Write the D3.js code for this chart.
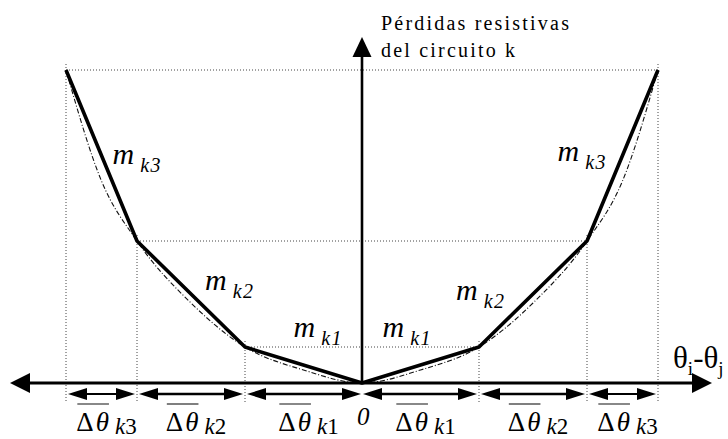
<!DOCTYPE html>
<html>
<head>
<meta charset="utf-8">
<script src="https://cdn.jsdelivr.net/npm/d3@7"></script>
<style>
  body { margin: 0; background: #fff; }
  svg { display: block; }
</style>
</head>
<body>
<svg id="chart" width="728" height="439"></svg>
<script>
// Piecewise-linear approximation of the resistive losses (one side, mirrored about 0)
const segments = ["1", "2", "3"];
const thetaBreaks = [0, 1.17, 2.25, 2.96];
const lossBreaks = [0, 0.36, 1.42, 3.13];

// Points sampled along the exact loss curve (one side, mirrored about 0)
const curveTheta = [0, 0.585, 1.17, 1.71, 2.25, 2.605, 2.96];
const curveLoss = [0, 0.13, 0.36, 0.80, 1.42, 2.02, 3.13];

const yTitleLines = ["Pérdidas resistivas", "del circuito k"];
const originLabel = "0";

const svg = d3.select("#chart");
const FONT = '"Liberation Serif"';
function txt(sel) {
  return sel.append("text").style("font-family", FONT).attr("fill", "#000");
}

const x = d3.scaleLinear().domain([-2.96, 2.96]).range([66, 658]);
const y = d3.scaleLinear().domain([0, 3.13]).range([383, 70]);

const x0 = x(0), y0 = y(0);
const guideColor = "#444";

// ---- dotted guide lines ----
const guides = svg.append("g")
  .attr("stroke", guideColor).attr("stroke-width", 1)
  .attr("stroke-dasharray", "1,2").attr("fill", "none");

thetaBreaks.slice(1).forEach((t, i) => {
  const L = lossBreaks[i + 1];
  guides.append("line")
    .attr("x1", x(-t)).attr("x2", x(t))
    .attr("y1", y(L)).attr("y2", y(L));
  [-t, t].forEach(v => {
    guides.append("line")
      .attr("x1", x(v)).attr("x2", x(v))
      .attr("y1", y(L) - 6).attr("y2", y0 + 19);
  });
});

// ---- exact loss curve (dash-dot) ----
const curvePts = [];
for (let i = curveTheta.length - 1; i > 0; i--) curvePts.push([-curveTheta[i], curveLoss[i]]);
curveTheta.forEach((t, i) => curvePts.push([t, curveLoss[i]]));

svg.append("path")
  .datum(curvePts)
  .attr("fill", "none")
  .attr("stroke", "#111")
  .attr("stroke-width", 1.1)
  .attr("stroke-dasharray", "5,2,1,2")
  .attr("d", d3.line().x(d => x(d[0])).y(d => y(d[1])).curve(d3.curveMonotoneX));

// ---- piecewise-linear approximation ----
const polyPts = [];
for (let i = thetaBreaks.length - 1; i > 0; i--) polyPts.push([-thetaBreaks[i], lossBreaks[i]]);
thetaBreaks.forEach((t, i) => polyPts.push([t, lossBreaks[i]]));

svg.append("path")
  .datum(polyPts)
  .attr("fill", "none")
  .attr("stroke", "#000")
  .attr("stroke-width", 3.6)
  .attr("stroke-linejoin", "round")
  .attr("d", d3.line().x(d => x(d[0])).y(d => y(d[1])));

// ---- arrow helpers ----
function headH(px, py, dir, len, half) {
  svg.append("path")
    .attr("d", `M${px},${py} L${px - dir * len},${py - half} L${px - dir * len},${py + half} Z`)
    .attr("fill", "#000");
}
function headV(px, py, dir, len, half) {
  svg.append("path")
    .attr("d", `M${px},${py} L${px - half},${py - dir * len} L${px + half},${py - dir * len} Z`)
    .attr("fill", "#000");
}

// ---- horizontal axis (θi-θj) ----
const axLeft = 10, axRight = 712;
svg.append("line")
  .attr("x1", axLeft + 10).attr("x2", axRight - 10)
  .attr("y1", y0).attr("y2", y0)
  .attr("stroke", "#000").attr("stroke-width", 2.8);
headH(axLeft, y0, -1, 20, 10);
headH(axRight, y0, 1, 20, 10);

// ---- vertical axis (losses) ----
const axTop = 37;
svg.append("line")
  .attr("x1", x0).attr("x2", x0)
  .attr("y1", y0).attr("y2", axTop + 12)
  .attr("stroke", "#000").attr("stroke-width", 2.6);
headV(x0, axTop, -1, 20, 9.5);

// ---- segment width arrows (Δθ_k) ----
const arrowY = y0 + 11;
segments.forEach((s, i) => {
  const a = thetaBreaks[i], b = thetaBreaks[i + 1];
  const sw = i === 2 ? 1.8 : 2.6;
  [[-b, -a], [a, b]].forEach(([u, v]) => {
    const xa = x(u) + (u === 0 ? 1 : 2);
    const xb = x(v) - (v === 0 ? 1 : 2);
    svg.append("line")
      .attr("x1", xa + 8).attr("x2", xb - 8)
      .attr("y1", arrowY).attr("y2", arrowY)
      .attr("stroke", "#000").attr("stroke-width", sw);
    headH(xa, arrowY, -1, 19, 6);
    headH(xb, arrowY, 1, 19, 6);
  });
});

// ---- Δθ_k labels with overline ----
const dLabelBase = 431;
segments.forEach((s, i) => {
  const a = thetaBreaks[i], b = thetaBreaks[i + 1];
  [[-b, -a], [a, b]].forEach(([u, v]) => {
    const cx = (x(u) + x(v)) / 2 + 5;
    const g = svg.append("g");
    const t = txt(g).attr("y", dLabelBase);
    const main = t.append("tspan").attr("font-size", 27);
    main.append("tspan").text("Δ");
    main.append("tspan").attr("font-style", "italic").attr("dx", 2).text("θ");
    t.append("tspan").attr("font-size", 23).attr("font-style", "italic")
      .attr("dy", 3).attr("dx", 6).text("k");
    t.append("tspan").attr("font-size", 23).text(s);
    const w = t.node().getComputedTextLength() + 8;
    t.attr("x", cx - w / 2);
    // overline spanning Δθ
    const wMain = main.node().getComputedTextLength() + 2;
    g.append("line")
      .attr("x1", cx - w / 2 + 1).attr("x2", cx - w / 2 + wMain)
      .attr("y1", dLabelBase - 27).attr("y2", dLabelBase - 27)
      .attr("stroke", "#555").attr("stroke-width", 1.4);
  });
});

// origin label
txt(svg)
  .attr("x", x0 - 5).attr("y", 425)
  .attr("font-size", 25)
  .attr("font-style", "italic")
  .text(originLabel);

// ---- slope labels m_k ----
// placement offsets (px) from each segment midpoint: [dx, dy] left side, right side
const slopeOffsets = [
  [[-10, -28], [-38, -28]],
  [[14, -4], [-77, 6]],
  [[11, 8], [-65, 5]]
];
segments.forEach((s, i) => {
  const a = thetaBreaks[i], b = thetaBreaks[i + 1];
  const my = y((lossBreaks[i] + lossBreaks[i + 1]) / 2);
  [[-b, -a, 0], [a, b, 1]].forEach(([u, v, side]) => {
    const mx = (x(u) + x(v)) / 2;
    const [dx, dy] = slopeOffsets[i][side];
    const t = txt(svg)
      .attr("x", mx + dx).attr("y", my + dy)
      .attr("font-style", "italic");
    t.append("tspan").attr("font-size", 30).text("m");
    t.append("tspan").attr("font-size", 20).attr("dx", 6).attr("dy", 8)
      .attr("letter-spacing", 1.5).text("k" + s);
  });
});

// ---- axis titles ----
const yt = txt(svg)
  .attr("font-size", 20)
  .attr("letter-spacing", 2.2);
yTitleLines.forEach((line, i) => {
  yt.append("tspan").attr("x", 381).attr("y", 30 + i * 27).text(line);
});

const xt = txt(svg)
  .attr("x", 673).attr("y", 368)
  .attr("font-size", 31);
xt.append("tspan").text("θ");
xt.append("tspan").attr("font-size", 19).attr("dy", 7).text("i");
xt.append("tspan").attr("dy", -7).text("-θ");
xt.append("tspan").attr("font-size", 19).attr("dy", 7).text("j");
</script>
</body>
</html>
